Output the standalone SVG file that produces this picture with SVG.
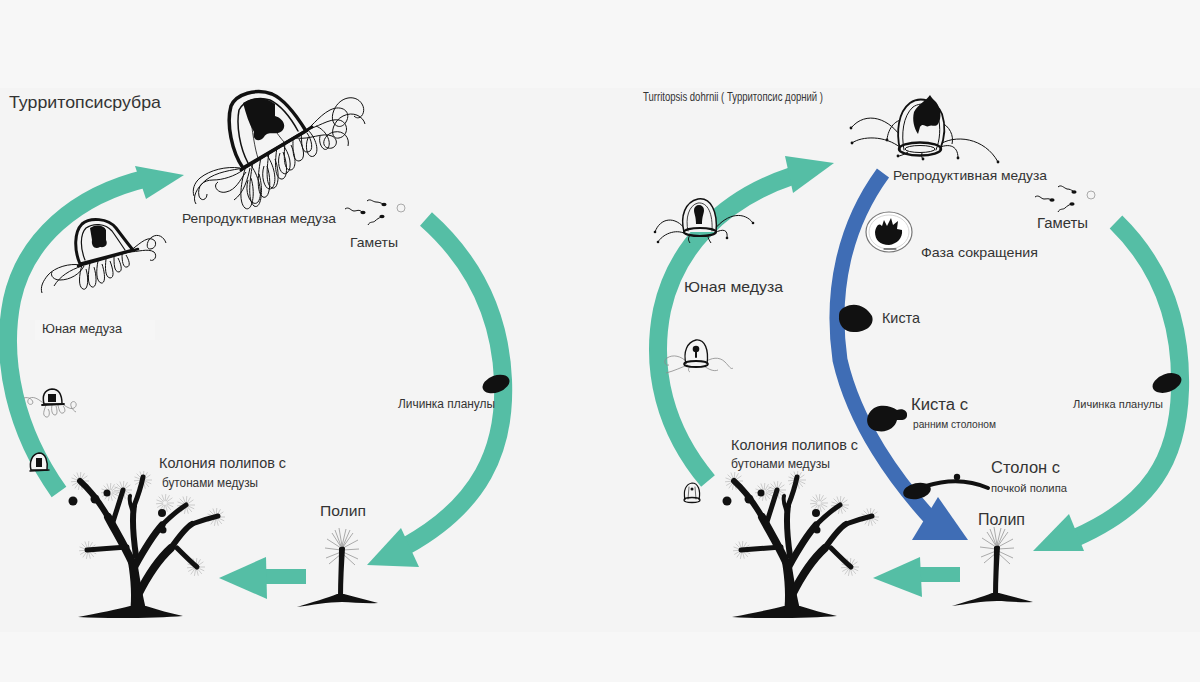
<svg xmlns="http://www.w3.org/2000/svg" xmlns:xlink="http://www.w3.org/1999/xlink" width="1200" height="682" viewBox="0 0 1200 682">
<style>
.t{font-family:"Liberation Sans",Arial,sans-serif;fill:#333}
.teal{fill:none;stroke:#55bea5;stroke-width:18}
.tealf{fill:#55bea5}
.blue{fill:none;stroke:#3f6db5}
.bluef{fill:#3f6db5}
.ink{fill:none;stroke:#111;stroke-linecap:round}
.tn{fill:none;stroke:#111;stroke-width:1}
.gr{fill:none;stroke:#8a8a8a;stroke-width:0.8}
.blk{fill:#111}
.bell{fill:#f4f4f4;stroke:#111}
</style>
<defs>
<g id="tuft" stroke="#b0b0b0" stroke-width="0.6">
<path d="M2,0L9,0M1.8,.85L8.2,3.8M1.3,1.5L5.8,6.9M.5,1.9L2.3,8.7M-.3,2L-1.6,8.9M-1.1,1.6L-5.2,7.4M-1.7,1L-7.8,4.5M-2,.2L-9,.8M-1.9,-.7L-8.5,-3.1M-1.4,-1.4L-6.4,-6.4M-.7,-1.9L-3.1,-8.5M.2,-2L.8,-9M1,-1.7L4.5,-7.8M1.6,-1.1L7.4,-5.2"/>
</g>
<g id="tree">
<use xlink:href="#tuft" transform="translate(80,481)"/>
<use xlink:href="#tuft" transform="translate(123,490)"/>
<use xlink:href="#tuft" transform="translate(143,480)"/>
<use xlink:href="#tuft" transform="translate(186,505)"/>
<use xlink:href="#tuft" transform="translate(216,517)"/>
<use xlink:href="#tuft" transform="translate(88,550)"/>
<use xlink:href="#tuft" transform="translate(196,567)"/>
<use xlink:href="#tuft" transform="translate(110,492)"/>
<use xlink:href="#tuft" transform="translate(165,503)"/>
<path class="blk" d="M78,617 C100,613 118,609 130,606 L146,606 C158,610 170,613 183,616 C160,618 110,619 78,617 Z"/>
<path class="blk" d="M130,613 C132,598 131,580 128,562 L137,560 C140,580 143,598 147,613 Z"/>
<g class="ink" stroke="#111">
<path d="M132,562 C124,545 116,532 108,517" stroke-width="8"/>
<path d="M108,517 C100,503 90,490 80,481" stroke-width="6"/>
<path d="M112,525 C116,512 120,500 123,490" stroke-width="5"/>
<path d="M136,556 C133,535 132,518 134,506" stroke-width="6"/>
<path d="M134,506 C138,496 141,487 143,477" stroke-width="5"/>
<path d="M133,512 C130,505 129,500 130,496" stroke-width="4"/>
<path d="M127,547 C115,548 100,549 87,550" stroke-width="5"/>
<path d="M134,568 C145,548 153,535 162,525" stroke-width="7"/>
<path d="M162,525 C170,517 178,510 186,505" stroke-width="5"/>
<path d="M138,595 C148,575 160,558 171,548" stroke-width="8"/>
<path d="M171,548 C178,538 185,528 192,524" stroke-width="6"/>
<path d="M192,524 C200,521 210,518 218,516" stroke-width="5"/>
<path d="M177,548 C184,555 191,562 197,567" stroke-width="5"/>
</g>
<circle class="blk" cx="73" cy="501" r="4.5"/>
<circle class="blk" cx="95" cy="499" r="4.5"/>
<circle class="blk" cx="107" cy="493" r="3.5"/>
<circle class="blk" cx="162" cy="513" r="4"/>
<circle class="blk" cx="163" cy="530" r="3.5"/>
</g>
<g id="polyp">
<path stroke="#8a8a8a" stroke-width="0.7" fill="none" d="M342,546L339,528M342,546L346,529M341,547L332,533M343,547L353,533M341,548L327,539M343,548L358,540M341,550L325,548M343,550L359,549M341,552L326,558M343,552L358,559M341,554L329,564M343,554L355,565M341,546L335,530M343,546L350,530"/>
<path class="blk" d="M339,548 C341,546 344,546 345,548 C344,565 343,580 343,597 L338,597 C338,580 339,565 339,548 Z"/>
<path class="blk" d="M297,607 C312,602 328,598 337,594 L344,594 C355,597 367,600 378,603 C366,604 352,602 342,602 C328,602 312,605 297,607 Z"/>
</g>
</defs>

<rect width="1200" height="682" fill="#f7f7f7"/>
<rect x="0" y="88" width="1200" height="544" fill="#f4f4f4"/>

<g id="connectors">
<path class="teal" d="M59,492 C15,430 0,360 12,300 C25,240 75,195 148,178"/>
<polygon class="tealf" points="184,175 135,166 146,199"/>
<path class="teal" d="M426,219 C470,258 500,310 503,380 C506,450 480,505 406,546"/>
<polygon class="tealf" points="367,565 401,528 419,567"/>
<rect class="tealf" x="255" y="569" width="51" height="15"/>
<polygon class="tealf" points="219,578 266,557 267,599"/>
<path class="teal" d="M708,481 C665,430 650,370 662,310 C675,250 720,200 792,176"/>
<polygon class="tealf" points="834,163 785,156 793,193"/>
<path class="teal" d="M1116,222 C1160,265 1182,320 1180,390 C1178,460 1150,505 1075,538"/>
<polygon class="tealf" points="1033,551 1069,514 1084,551"/>
<rect class="tealf" x="910" y="567" width="50" height="15"/>
<polygon class="tealf" points="873,578 920,557 922,597"/>
<path class="blue" stroke-width="15" d="M883,173 C845,225 830,290 840,360 C855,425 897,482 932,520"/>
<polygon class="bluef" points="968,540 912,540 938,497"/>
</g>

<g id="title-left"><text class="t" x="9" y="108" font-size="17" textLength="152" lengthAdjust="spacingAndGlyphs">Турритопсисрубра</text></g>

<g id="repro-left">
<g class="tn">
<path d="M246,166 c-5,15 -8,36 -1,42 c7,5 11,-14 6,-30"/>
<path d="M253,162 c-3,16 -6,38 1,44 c7,4 10,-16 5,-32"/>
<path d="M261,157 c-3,16 -5,36 2,40 c7,3 9,-17 4,-31"/>
<path d="M269,152 c-2,15 -4,33 3,36 c7,2 8,-16 3,-29"/>
<path d="M277,147 c-2,14 -3,30 4,32 c7,1 7,-15 2,-27"/>
<path d="M285,142 c-1,13 -2,27 5,28 c7,0 6,-14 1,-25"/>
<path d="M293,137 c0,12 -1,24 6,24 c7,-1 5,-13 0,-22"/>
<path d="M301,132 c1,11 0,21 7,20 c6,-1 4,-12 -1,-19"/>
<path d="M250,164 c8,10 14,30 8,38 c-6,6 -14,-8 -10,-22"/>
<path d="M266,154 c8,10 12,28 6,34 c-6,5 -12,-10 -8,-22"/>
<path d="M282,144 c8,9 11,24 5,29 c-6,4 -11,-9 -7,-20"/>
<path d="M300,134 c10,-4 18,-18 30,-24 c12,-6 22,2 16,12 c-6,10 -18,2 -12,-12 c6,-14 22,-16 28,-6 c5,8 -2,18 -8,12"/>
<path d="M305,130 c12,-2 24,-12 34,-10 c10,2 10,16 0,18 c-10,2 -8,-16 4,-22 c10,-5 20,0 22,8"/>
<path d="M296,138 c14,2 26,-6 36,-2 c8,4 4,14 -4,12 c-8,-2 -4,-14 6,-16 c10,-2 16,6 14,14"/>
<path d="M308,130 c8,8 12,22 6,26 c-6,3 -10,-8 -6,-18"/>
<path d="M316,126 c10,4 16,16 12,22 c-4,5 -10,-4 -8,-12"/>
<path d="M244,168 c-12,2 -28,4 -38,12 c-10,8 -14,18 -10,24"/>
<path d="M243,170 c-8,6 -20,10 -30,10 c-10,0 -16,6 -14,16 c2,6 8,4 8,-2"/>
<path d="M246,172 c-6,8 -10,18 -20,20 c-8,2 -14,-6 -8,-10"/>
<path d="M240,168 c-14,-2 -30,2 -40,10 c-6,5 -8,12 -6,18"/>
<path d="M250,168 c-2,10 -6,25 -16,32"/>
</g>
<path class="bell" stroke-width="3.5" d="M243,168 C232,152 226,124 231,106 C236,94 256,88 272,94 C286,100 298,118 306,131 Z"/>
<path class="ink" stroke-width="1.5" d="M248,163 C240,148 236,126 239,110 C244,100 258,96 270,100 C282,106 292,120 298,131"/>
<path class="ink" stroke-width="0.8" d="M250,112 C252,130 255,150 258,158 M262,104 C268,122 278,135 284,142"/>
<path class="blk" d="M243,103 C252,97 266,96 275,104 L275,116 C283,118 287,126 282,131 C276,136 268,130 264,137 C259,143 252,140 254,132 C249,124 246,114 243,103 Z"/>
<path class="ink" stroke-width="3" d="M241,170 L312,127"/>
<text class="t" x="182" y="223" font-size="13.5" textLength="154" lengthAdjust="spacingAndGlyphs">Репродуктивная медуза</text>
</g>

<g id="gametes-left">
<g class="tn" stroke-width="0.9">
<path d="M345,209 c4,-3 6,2 9,2 c3,0 5,-2 8,1"/>
<path d="M367,201 c3,-3 6,1 9,1 c3,0 5,1 7,2"/>
<path d="M368,225 c2,-4 5,-2 7,-4 c2,-2 4,-3 6,-4"/>
</g>
<ellipse class="blk" cx="363" cy="212.5" rx="2.6" ry="1.8"/>
<ellipse class="blk" cx="384" cy="204.5" rx="2.6" ry="1.8"/>
<ellipse class="blk" cx="382" cy="216.5" rx="2.6" ry="1.8"/>
<circle cx="401" cy="208" r="4" fill="none" stroke="#aaa" stroke-width="1"/>
<text class="t" x="350" y="247" font-size="13.5" textLength="48" lengthAdjust="spacingAndGlyphs">Гаметы</text>
</g>

<g id="juvenile-left">
<g class="tn">
<path d="M82,265 c-3,10 -4,22 1,24 c5,2 6,-10 3,-20"/>
<path d="M90,263 c-2,10 -3,22 2,24 c5,1 5,-10 2,-20"/>
<path d="M98,261 c-2,10 -2,20 3,22 c5,1 4,-10 1,-19"/>
<path d="M106,259 c-1,9 -1,18 4,19 c5,0 3,-9 0,-17"/>
<path d="M114,256 c0,8 0,16 5,16 c4,-1 2,-8 -1,-14"/>
<path d="M122,254 c0,7 1,14 5,13 c4,-1 2,-7 -1,-12"/>
<path d="M80,265 c-10,-2 -25,2 -32,10 c-5,6 -8,12 -6,18"/>
<path d="M82,266 c-12,4 -22,10 -28,20"/>
<path d="M84,266 c-4,8 -14,14 -24,14 c-6,0 -10,-4 -8,-8"/>
<path d="M130,251 c8,-6 16,-14 22,-12 c6,2 4,10 -2,10 c-4,0 -4,-8 2,-12 c6,-4 12,0 14,6"/>
<path d="M128,252 c10,0 20,-4 26,0 c4,4 0,10 -4,8"/>
</g>
<path class="bell" stroke-width="3" d="M80,264 C74,250 74,232 82,224 C90,217 108,218 116,228 C122,236 128,244 133,250 Z"/>
<path class="ink" stroke-width="1.2" d="M85,260 C80,248 80,234 86,228 C93,223 105,223 112,231 C117,238 121,244 125,250"/>
<path class="blk" d="M90,228 C96,224 104,225 106,230 L106,240 C108,244 106,248 100,247 C95,250 91,246 92,240 Z"/>
<path class="ink" stroke-width="2.5" d="M78,266 L138,249"/>
<rect x="35" y="320" width="120" height="20" fill="#f6f6f6"/>
<text class="t" x="42" y="333" font-size="13" textLength="80" lengthAdjust="spacingAndGlyphs">Юная медуза</text>
</g>

<g id="small-medusa-left">
<g class="gr">
<path d="M44,404 c-4,-4 -10,-8 -14,-6 c-4,2 -2,8 2,6 c3,-2 -2,-8 -8,-6"/>
<path d="M46,405 c-2,6 -4,10 0,12 c4,1 4,-6 2,-8"/>
<path d="M52,405 c-1,5 0,10 3,10 c3,0 2,-6 1,-9"/>
<path d="M58,405 c1,5 2,9 5,8 c3,-1 2,-5 0,-7"/>
<path d="M62,404 c4,2 8,6 12,4 c4,-2 2,-8 -2,-6 c-3,2 0,8 4,10"/>
</g>
<path class="bell" stroke="#333" stroke-width="1.5" d="M44,404 C42,396 44,390 52,389 C59,389 62,395 62,404 Z"/>
<path class="blk" d="M48,394 h8 v8 h-8 Z"/>
<path class="ink" stroke-width="1.8" d="M42,405 L64,404"/>
</g>

<g id="tiny-medusa-left">
<path class="bell" stroke-width="1.5" d="M31,470 C29,462 32,454 39,453 C46,453 48,462 47,470 Z"/>
<path class="blk" d="M36,458 h6 v9 h-6 Z"/>
<path class="ink" stroke-width="1.5" d="M30,471 L49,470"/>
</g>

<g id="colony-left">
<use xlink:href="#tree"/>
<text class="t" x="159" y="468" font-size="14" textLength="127" lengthAdjust="spacingAndGlyphs">Колония полипов с</text>
<text class="t" x="162" y="487" font-size="12" textLength="96" lengthAdjust="spacingAndGlyphs">бутонами медузы</text>
</g>

<g id="polyp-left">
<use xlink:href="#polyp"/>
<text class="t" x="320" y="516" font-size="15" textLength="46" lengthAdjust="spacingAndGlyphs">Полип</text>
</g>

<g id="planula-left">
<ellipse class="blk" cx="496" cy="384" rx="14" ry="8.5" transform="rotate(-20 496 384)"/>
<text class="t" x="398" y="408" font-size="12" textLength="97" lengthAdjust="spacingAndGlyphs">Личинка планулы</text>
</g>

<g id="title-right"><text class="t" x="643" y="101" font-size="13" textLength="180" lengthAdjust="spacingAndGlyphs">Turritopsis dohrnii ( Турритопсис дорний )</text></g>

<g id="repro-right">
<g class="tn" stroke-width="1.1">
<path d="M903,140 C890,118 866,110 851,128"/>
<path d="M901,148 C885,135 862,136 852,143"/>
<path d="M906,120 C896,118 888,128 887,140"/>
<path d="M937,146 C955,133 985,138 998,162"/>
<path d="M934,150 C948,142 958,145 958,158"/>
<path d="M908,152 C903,155 900,156 898,156"/>
<path d="M922,153 C921,156 922,158 923,159"/>
<path d="M940,122 C950,126 954,136 952,144"/>
</g>
<g class="blk">
<circle cx="851" cy="128" r="1.4"/><circle cx="852" cy="143" r="1.4"/><circle cx="887" cy="140" r="1.4"/>
<circle cx="998" cy="162" r="1.4"/><circle cx="958" cy="158" r="1.4"/><circle cx="898" cy="156" r="1.4"/><circle cx="923" cy="159" r="1.4"/>
</g>
<path class="bell" stroke-width="1.8" d="M900,150 C896,132 898,112 910,103 C920,96 936,100 942,114 C946,126 944,140 940,150"/>
<path class="ink" stroke-width="1" d="M904,150 C901,134 903,116 913,107 C922,101 934,104 938,116 C941,128 940,140 936,150"/>
<path class="blk" d="M930,95 C927,100 918,104 914,112 C912,120 914,128 918,134 L920,127 C923,122 926,128 929,126 C932,124 935,128 938,124 C942,118 941,108 936,102 C933,99 931,97 930,95 Z"/>
<ellipse cx="920" cy="149" rx="21" ry="6.5" fill="none" stroke="#111" stroke-width="2.5"/>
<ellipse cx="920" cy="149" rx="15" ry="3.5" fill="none" stroke="#111" stroke-width="1"/>
<text class="t" x="893" y="180" font-size="13.5" textLength="154" lengthAdjust="spacingAndGlyphs">Репродуктивная медуза</text>
</g>

<g id="gametes-right">
<g class="tn" stroke-width="0.9">
<path d="M1035,197 c4,-3 6,2 9,2 c3,0 5,-1 7,1"/>
<path d="M1058,187 c3,-3 6,1 9,2 c3,0 4,1 6,2"/>
<path d="M1058,212 c2,-4 5,-2 7,-4 c2,-2 4,-3 6,-4"/>
</g>
<ellipse class="blk" cx="1052" cy="200" rx="2.6" ry="1.8"/>
<ellipse class="blk" cx="1074" cy="192" rx="2.6" ry="1.8"/>
<ellipse class="blk" cx="1072" cy="204" rx="2.6" ry="1.8"/>
<circle cx="1091" cy="195" r="4" fill="none" stroke="#aaa" stroke-width="1"/>
<text class="t" x="1037" y="228" font-size="14" textLength="51" lengthAdjust="spacingAndGlyphs">Гаметы</text>
</g>

<g id="contraction">
<ellipse cx="889" cy="232" rx="23" ry="20" fill="#fff" stroke="#777" stroke-width="1.2"/>
<ellipse cx="889" cy="232" rx="20" ry="17" fill="none" stroke="#ccc" stroke-width="0.8"/>
<path class="blk" d="M875,232 C876,226 879,222 882,226 L884,220 L887,226 L891,218 L893,225 L898,221 L897,229 L902,230 C903,238 897,244 889,245 C880,245 875,240 875,232 Z"/>
<path class="ink" stroke-width="1" d="M884,249 L896,249"/>
<text class="t" x="921" y="257" font-size="13" textLength="117" lengthAdjust="spacingAndGlyphs">Фаза сокращения</text>
</g>

<g id="juvenile-right">
<g class="tn" stroke-width="1">
<path d="M686,230 C675,215 660,218 655,232"/>
<path d="M686,234 C675,228 662,235 658,242"/>
<path d="M714,230 C728,212 745,212 753,223"/>
<path d="M714,233 C724,228 728,230 727,238"/>
<path d="M690,235 C688,238 688,240 690,243"/>
<path d="M708,236 C708,238 709,240 711,243"/>
</g>
<g class="blk"><circle cx="655" cy="232" r="1.3"/><circle cx="658" cy="242" r="1.3"/><circle cx="753" cy="223" r="1.3"/><circle cx="727" cy="238" r="1.3"/></g>
<path class="bell" stroke-width="1.5" d="M684,232 C680,216 685,202 698,199 C711,197 718,212 716,232"/>
<path class="ink" stroke-width="0.8" d="M688,231 C685,218 689,205 698,203 C708,202 713,214 712,231"/>
<path class="blk" d="M694,210 a5,5 0 1 1 10,0 C704,214 702,216 702,224 L696,224 C696,216 694,214 694,210 Z"/>
<ellipse cx="700" cy="232" rx="16" ry="4" fill="none" stroke="#111" stroke-width="2.2"/>
<text class="t" x="684" y="292" font-size="15" textLength="99" lengthAdjust="spacingAndGlyphs">Юная медуза</text>
</g>

<g id="small-medusa-right">
<g class="gr">
<path d="M687,362 c-6,-6 -14,-8 -20,-4 c-4,3 -2,8 2,7"/>
<path d="M688,365 c-6,2 -14,6 -22,8"/>
<path d="M705,362 c6,-4 14,-6 20,0 c4,4 6,8 8,6"/>
<path d="M704,366 c4,3 10,6 14,4"/>
<path d="M690,366 c-2,3 -2,5 0,6"/>
</g>
<path class="bell" stroke-width="1.3" d="M686,364 C683,352 687,342 696,340 C705,339 709,350 707,364"/>
<circle class="blk" cx="696" cy="349" r="3.3"/>
<path class="ink" stroke-width="2" d="M696,350 L696,357"/>
<ellipse cx="696" cy="364" rx="12" ry="3" fill="none" stroke="#111" stroke-width="1.8"/>
</g>

<g id="tiny-medusa-right">
<path class="bell" stroke-width="1.2" d="M685,500 C683,490 686,484 692,483 C698,483 701,490 699,500"/>
<circle class="blk" cx="692" cy="489" r="1.5"/>
<path class="ink" stroke-width="0.6" d="M689,487 L688,499 M695,487 L696,499"/>
<ellipse cx="692" cy="500" rx="8" ry="2.5" fill="none" stroke="#111" stroke-width="1.3"/>
</g>

<g id="cyst">
<path class="blk" d="M845,307 C855,302 866,306 872,316 C875,325 866,332 855,332 C845,333 838,325 839,316 C839,311 841,309 845,307 Z"/>
<text class="t" x="882" y="323" font-size="15" textLength="38" lengthAdjust="spacingAndGlyphs">Киста</text>
</g>

<g id="cyst-stolon">
<path class="blk" d="M870,412 C876,403 890,405 897,410 C902,408 908,410 907,416 C906,421 900,420 897,420 C895,428 887,433 877,431 C868,430 864,420 870,412 Z"/>
<text class="t" x="911" y="410" font-size="16" textLength="57" lengthAdjust="spacingAndGlyphs">Киста с</text>
<text class="t" x="913" y="428" font-size="11" textLength="83" lengthAdjust="spacingAndGlyphs">ранним столоном</text>
</g>

<g id="colony-right">
<use xlink:href="#tree" transform="translate(654,0)"/>
<text class="t" x="731" y="450" font-size="14" textLength="127" lengthAdjust="spacingAndGlyphs">Колония полипов с</text>
<text class="t" x="731" y="468" font-size="12.5" textLength="99" lengthAdjust="spacingAndGlyphs">бутонами медузы</text>
</g>

<g id="stolon-bud">
<ellipse class="blk" cx="917" cy="491" rx="14" ry="8" transform="rotate(-12 917 491)"/>
<path class="ink" stroke-width="4" d="M926,486 C945,480 965,478 988,488"/>
<circle class="blk" cx="957" cy="477" r="3.2"/>
<text class="t" x="991" y="473" font-size="16" textLength="69" lengthAdjust="spacingAndGlyphs">Столон с</text>
<text class="t" x="991" y="492" font-size="11.5" textLength="76" lengthAdjust="spacingAndGlyphs">почкой полипа</text>
</g>

<g id="polyp-right">
<use xlink:href="#polyp" transform="translate(655,-1)"/>
<text class="t" x="978" y="525" font-size="16" textLength="47" lengthAdjust="spacingAndGlyphs">Полип</text>
</g>

<g id="planula-right">
<ellipse class="blk" cx="1167" cy="383" rx="15" ry="9" transform="rotate(-20 1167 383)"/>
<text class="t" x="1073" y="408" font-size="11.5" textLength="90" lengthAdjust="spacingAndGlyphs">Личинка планулы</text>
</g>
</svg>
